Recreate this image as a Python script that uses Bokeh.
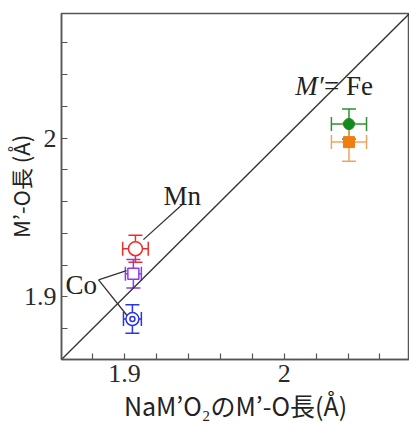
from bokeh.plotting import figure
from bokeh.models import (Range1d, FixedTicker, NumeralTickFormatter, Whisker,
                          TeeHead, ColumnDataSource, Label)
from bokeh.embed import file_html
from bokeh.resources import INLINE

# ---- data ----
series = ["Mn", "Co (square)", "Co (ring)", "Fe (circle)", "Fe (square)"]
x_vals = [1.9069, 1.9056, 1.9050, 2.0406, 2.0406]
y_vals = [1.9304, 1.9146, 1.8861, 2.0089, 1.9975]
x_err = [0.0080, 0.0050, 0.0056, 0.0110, 0.0110]
y_err = [0.0085, 0.0090, 0.0090, 0.0095, 0.0120]
major_ticks = [1.9, 2.0]
minor_ticks = [1.88, 1.92, 1.94, 1.96, 1.98, 2.02, 2.04, 2.06]
axis_lo, axis_hi = 1.8606, 2.0785
x_title = "NaM’O₂のM’-O長(Å)"
y_title = "M’-O長 (Å)"

# leader lines from labels to markers
mn_leader_x = [1.9362, 1.9119]
mn_leader_y = [1.9582, 1.9361]
co_leader1_x = [1.8838, 1.9013]
co_leader1_y = [1.9108, 1.9165]
co_leader2_x = [1.8838, 1.9019]
co_leader2_y = [1.9108, 1.8880]

colors = ["#ee2d2d", "#8a3cf0", "#2b35e0", "#138a1c", "#f07d12"]
err_colors = ["#ee2d2d", "#8a3cf0", "#2b35e0", "#2e8f35", "#f4a261"]

SERIF = "Liberation Serif"
SANS = "Noto Sans CJK JP"
AX = "#555555"

p = figure(width=409, height=425, output_backend="svg", toolbar_location=None,
           x_range=Range1d(axis_lo, axis_hi), y_range=Range1d(axis_lo, axis_hi),
           min_border_left=61, min_border_right=0, min_border_top=13,
           min_border_bottom=66)
p.background_fill_color = "white"
p.border_fill_color = "white"
p.grid.visible = False
p.outline_line_color = AX
p.outline_line_width = 1.5

for ax in (p.xaxis[0], p.yaxis[0]):
    ax.ticker = FixedTicker(ticks=major_ticks, minor_ticks=minor_ticks)
    ax.formatter = NumeralTickFormatter(format="0.[0]")
    ax.axis_line_color = AX
    ax.axis_line_width = 1.5
    ax.major_tick_line_color = AX
    ax.minor_tick_line_color = AX
    ax.major_tick_line_width = 1.2
    ax.minor_tick_line_width = 1.2
    ax.major_tick_in = 6
    ax.major_tick_out = 0
    ax.minor_tick_in = 6
    ax.minor_tick_out = 0
    ax.major_label_text_font = SERIF
    ax.major_label_text_font_size = "26px"
    ax.major_label_text_color = "#2a2a2a"
    ax.major_label_standoff = 5
    ax.axis_label_text_font = SANS
    ax.axis_label_text_font_style = "normal"
    ax.axis_label_text_color = "#222222"

p.xaxis.axis_label = x_title
p.yaxis.axis_label = y_title
p.xaxis.axis_label_text_font_size = "25px"
p.yaxis.axis_label_text_font_size = "22px"
p.xaxis.axis_label_standoff = 2
p.yaxis.axis_label_standoff = -15

# diagonal y = x
p.line([axis_lo, axis_hi], [axis_lo, axis_hi], line_color="#333333", line_width=1.3)

# leader lines
for lx, ly in ((mn_leader_x, mn_leader_y), (co_leader1_x, co_leader1_y),
               (co_leader2_x, co_leader2_y)):
    p.line(lx, ly, line_color="#333333", line_width=1.3)

# error bars
for i in range(len(series)):
    src = ColumnDataSource(dict(x=[x_vals[i]], y=[y_vals[i]],
                                xl=[x_vals[i] - x_err[i]], xu=[x_vals[i] + x_err[i]],
                                yl=[y_vals[i] - y_err[i]], yu=[y_vals[i] + y_err[i]]))
    c = err_colors[i]
    p.add_layout(Whisker(source=src, base="y", lower="xl", upper="xu", dimension="width",
                         line_color=c, line_width=1.5,
                         lower_head=TeeHead(size=14, line_color=c, line_width=1.5),
                         upper_head=TeeHead(size=14, line_color=c, line_width=1.5)))
    p.add_layout(Whisker(source=src, base="x", lower="yl", upper="yu", dimension="height",
                         line_color=c, line_width=1.5,
                         lower_head=TeeHead(size=14, line_color=c, line_width=1.5),
                         upper_head=TeeHead(size=14, line_color=c, line_width=1.5)))

# markers
p.scatter([x_vals[0]], [y_vals[0]], marker="circle", size=14, fill_color="white",
          line_color=colors[0], line_width=1.5)
p.scatter([x_vals[1]], [y_vals[1]], marker="square", size=11, fill_color="white",
          line_color=colors[1], line_width=1.5)
p.scatter([x_vals[2]], [y_vals[2]], marker="circle", size=13, fill_color="white",
          line_color=colors[2], line_width=1.5)
p.scatter([x_vals[2]], [y_vals[2]], marker="circle", size=5, fill_color="white",
          line_color=colors[2], line_width=1.5)
p.scatter([x_vals[4]], [y_vals[4]], marker="square", size=11, fill_color=colors[4],
          line_color=colors[4], line_width=1)
p.scatter([x_vals[3]], [y_vals[3]], marker="circle", size=11, fill_color=colors[3],
          line_color=colors[3], line_width=1)

# in-plot labels
lab = dict(text_font=SERIF, text_font_size="27px", text_color="#222222",
           text_baseline="alphabetic")
p.add_layout(Label(x=1.9244, y=1.9636, text="Mn", **lab))
p.add_layout(Label(x=1.8631, y=1.9075, text="Co", **lab))
p.add_layout(Label(x=2.0069, y=2.0331, text="M′", text_font_style="italic", **lab))
p.add_layout(Label(x=2.0250, y=2.0331, text="= Fe", **lab))

open("out.html", "w").write(file_html(p, INLINE))
